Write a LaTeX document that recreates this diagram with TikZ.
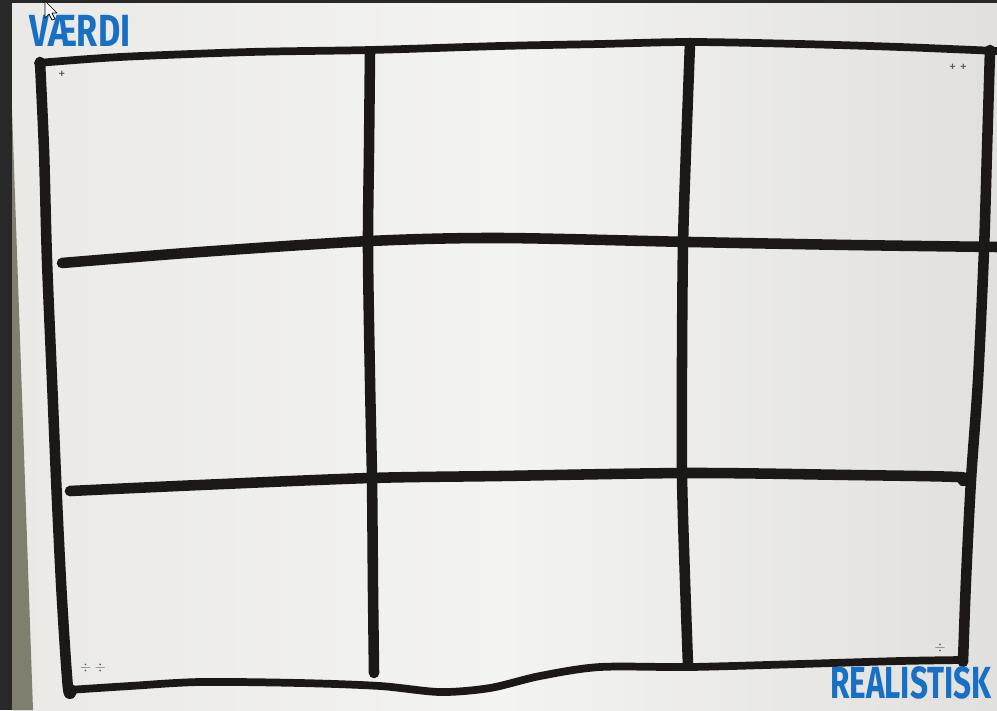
\documentclass[tikz,border=0pt]{standalone}
\usepackage{fontspec}
\setmainfont{Fira Sans}
\usepackage{xcolor}
\definecolor{blaaTusch}{RGB}{24,112,196}
\definecolor{sortTusch}{RGB}{28,24,21}
\definecolor{papir}{RGB}{234,233,229}
\definecolor{papirLys}{RGB}{243,243,241}
\definecolor{bordGraa}{RGB}{128,126,108}
\definecolor{skaerm}{RGB}{40,40,40}
\usepackage{tikz}
\usetikzlibrary{positioning}

\begin{document}
\begin{tikzpicture}[x=0.025cm, y=-0.025cm,
    streg/.style={sortTusch, line width=7.5pt, line cap=round, line join=round},
    kant/.style={sortTusch, line width=5.5pt, line cap=round, line join=round},
    tusch/.style={blaaTusch, font=\bfseries\fontsize{32}{32}\selectfont, inner sep=0pt},
    maerke/.style={gray!70!black, font=\fontsize{10}{10}\selectfont, inner sep=0pt}]
  \useasboundingbox (0,0) rectangle (997,710);

  % Baggrund: skaerm, bord og papir
  \fill[skaerm] (0,0) rectangle (997,710);
  \shade[left color=papir, right color=papir!96!black, middle color=papirLys]
    (12,3) rectangle (997,710);
  \fill[bordGraa] (12,110) -- (33,710) -- (12,710) -- cycle;

  % Yderramme
  \draw[kant] plot[smooth] coordinates {(38,63) (120,57) (250,52) (370,50) (500,46)
    (600,44) (690,42) (800,44) (900,47) (997,51)};
  \draw[streg] plot[smooth] coordinates {(40,62) (44,150) (47,260) (52,380) (57,500)
    (62,600) (68,688) (72,690)};
  \draw[kant] plot[smooth] coordinates {(68,690) (130,686) (200,682) (300,683) (380,686)
    (440,692) (490,688) (540,676) (600,667) (690,667) (800,664) (900,661) (962,660)};
  \draw[streg] plot[smooth] coordinates {(990,50) (987,150) (984,250) (978,380)
    (971,480) (966,580) (963,662)};

  % Lodrette streger
  \draw[streg] plot[smooth] coordinates {(370,52) (369,150) (368,250) (370,380)
    (372,480) (373,590) (374,673)};
  \draw[streg] plot[smooth] coordinates {(690,43) (686,150) (683,245) (682,360)
    (682,475) (685,580) (688,665)};

  % Vandrette streger
  \draw[streg] plot[smooth] coordinates {(62,263) (200,252) (370,241) (500,238)
    (690,242) (850,245) (997,247)};
  \draw[streg] plot[smooth] coordinates {(70,491) (200,485) (370,478) (500,476)
    (690,473) (850,475) (958,477) (963,481)};

  % Aksetekster
  \node[tusch, xscale=0.76] (vaerdi) at (80,31) {VÆRDI};
  \node[tusch, xscale=0.7] (realistisk) at (911,683) {REALISTISK};

  % Smaa maerker i hjoernerne
  \node[maerke] (plus) at (62,75) {+};
  \node[maerke] (plusplus) at (958,68) {+ +};
  \node[maerke] (divdiv) at (93,668) {$\div$ $\div$};
  \node[maerke] (div) at (940,648) {$\div$};

  % Musemarkoer
  \draw[black, fill=white, line width=0.5pt, line join=round]
    (45,1) -- (45,18) -- (49,14) -- (52,20) -- (55,19) -- (52,13) -- (57,13) -- cycle;
\end{tikzpicture}
\end{document}
